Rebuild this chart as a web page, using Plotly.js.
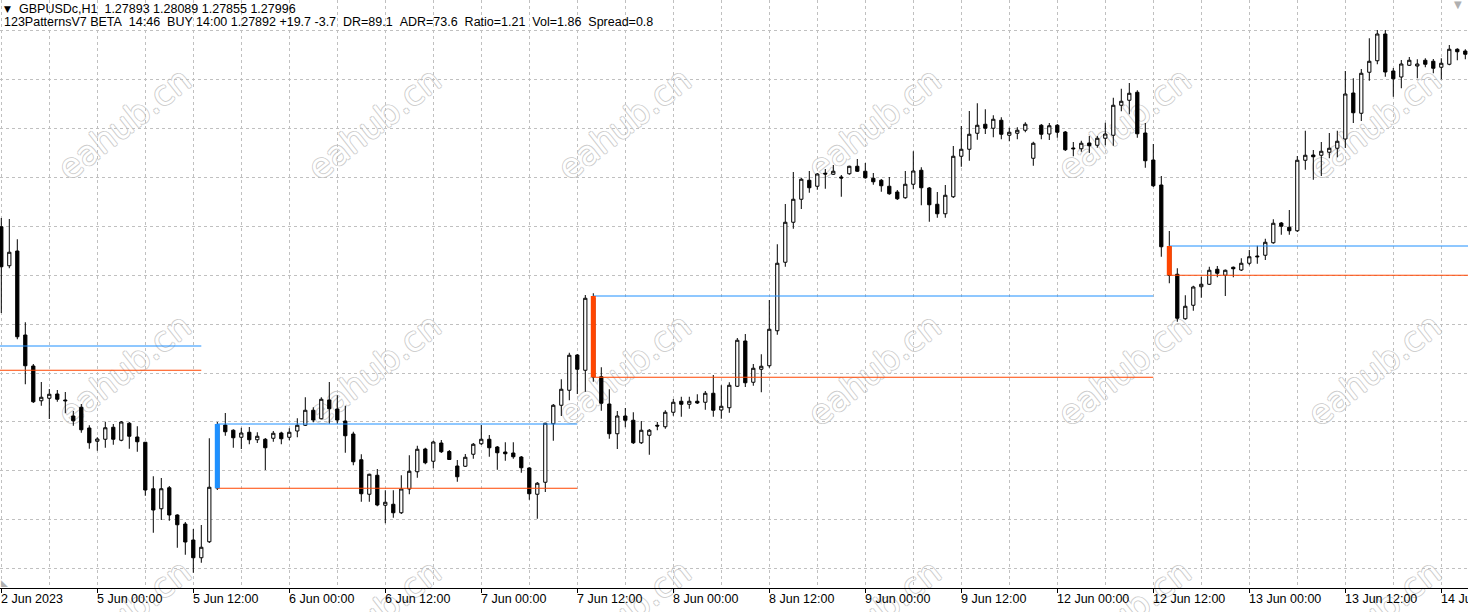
<!DOCTYPE html>
<html>
<head>
<meta charset="utf-8">
<script src="https://cdn.plot.ly/plotly-3.0.1.min.js"></script>
<style>
html,body{margin:0;padding:0;background:#ffffff;}
#chart{width:1468px;height:612px;}
</style>
</head>
<body>
<div id="chart"></div>
<script>
// GBPUSDc H1 bars (one per hour, weekend skipped), oldest first
const open = [1.25213,1.25057,1.25116,1.24780,1.24656,1.24517,1.24527,1.24544,1.24520,1.24456,1.24491,1.24408,1.24355,1.24363,1.24411,1.24359,1.24427,1.24372,1.24351,1.24165,1.24085,1.24169,1.24060,1.24024,1.23960,1.23889,1.23953,1.24168,1.24420,1.24399,1.24371,1.24391,1.24361,1.24363,1.24367,1.24388,1.24371,1.24396,1.24419,1.24479,1.24445,1.24520,1.24484,1.24436,1.24384,1.24281,1.24143,1.24219,1.24099,1.24103,1.24069,1.24164,1.24233,1.24324,1.24275,1.24348,1.24314,1.24256,1.24255,1.24303,1.24345,1.24363,1.24332,1.24312,1.24308,1.24292,1.24248,1.24143,1.24191,1.24425,1.24499,1.24559,1.24700,1.24639,1.24928,1.24613,1.24504,1.24385,1.24456,1.24439,1.24349,1.24379,1.24419,1.24413,1.24471,1.24515,1.24503,1.24515,1.24511,1.24547,1.24480,1.24489,1.24575,1.24756,1.24591,1.24643,1.24657,1.24797,1.25071,1.25231,1.25323,1.25399,1.25375,1.25427,1.25423,1.25412,1.25425,1.25455,1.25435,1.25407,1.25399,1.25375,1.25352,1.25329,1.25383,1.25439,1.25368,1.25303,1.25265,1.25333,1.25495,1.25523,1.25587,1.25623,1.25607,1.25639,1.25579,1.25587,1.25599,1.25487,1.25619,1.25584,1.25619,1.25592,1.25528,1.25525,1.25548,1.25539,1.25567,1.25579,1.25699,1.25719,1.25751,1.25588,1.25480,1.25380,1.25133,1.25023,1.24845,1.24899,1.24973,1.24983,1.25043,1.25019,1.25051,1.25040,1.25067,1.25096,1.25099,1.25149,1.25228,1.25211,1.25197,1.25479,1.25500,1.25499,1.25511,1.25527,1.25564,1.25748,1.25667,1.25831,1.25877,1.25984,1.25836,1.25812,1.25859,1.25856,1.25879,1.25875,1.25851,1.25863,1.25923,1.25916];
const high = [1.25248,1.25244,1.25163,1.24831,1.24664,1.24592,1.24564,1.24560,1.24552,1.24476,1.24504,1.24419,1.24371,1.24433,1.24424,1.24436,1.24432,1.24415,1.24352,1.24215,1.24208,1.24176,1.24063,1.24032,1.24004,1.24020,1.24367,1.24432,1.24468,1.24403,1.24409,1.24412,1.24391,1.24368,1.24396,1.24393,1.24407,1.24447,1.24531,1.24491,1.24531,1.24592,1.24539,1.24497,1.24393,1.24303,1.24225,1.24244,1.24159,1.24159,1.24219,1.24299,1.24337,1.24329,1.24357,1.24360,1.24320,1.24280,1.24304,1.24348,1.24420,1.24380,1.24336,1.24351,1.24351,1.24296,1.24251,1.24192,1.24429,1.24504,1.24603,1.24709,1.24704,1.24940,1.24947,1.24651,1.24563,1.24476,1.24488,1.24471,1.24436,1.24404,1.24432,1.24479,1.24524,1.24533,1.24533,1.24543,1.24556,1.24620,1.24579,1.24591,1.24768,1.24784,1.24664,1.24703,1.24920,1.25143,1.25304,1.25432,1.25409,1.25436,1.25428,1.25444,1.25460,1.25420,1.25457,1.25484,1.25468,1.25428,1.25404,1.25412,1.25360,1.25436,1.25515,1.25451,1.25372,1.25352,1.25380,1.25536,1.25616,1.25676,1.25707,1.25683,1.25659,1.25651,1.25609,1.25611,1.25631,1.25553,1.25624,1.25628,1.25624,1.25596,1.25552,1.25557,1.25576,1.25576,1.25629,1.25729,1.25765,1.25788,1.25759,1.25628,1.25544,1.25416,1.25196,1.25047,1.24939,1.24977,1.25013,1.25053,1.25056,1.25042,1.25054,1.25087,1.25120,1.25137,1.25165,1.25243,1.25232,1.25280,1.25496,1.25597,1.25520,1.25552,1.25588,1.25597,1.25836,1.25807,1.25844,1.25967,1.26000,1.26000,1.25848,1.25880,1.25892,1.25883,1.25887,1.25884,1.25887,1.25940,1.25927,1.25923];
const low = [1.24868,1.25047,1.24763,1.24583,1.24508,1.24497,1.24444,1.24513,1.24467,1.24417,1.24389,1.24325,1.24317,1.24329,1.24341,1.24355,1.24325,1.24313,1.24137,1.23989,1.24040,1.24037,1.23929,1.23901,1.23829,1.23869,1.23948,1.24160,1.24377,1.24329,1.24324,1.24343,1.24348,1.24240,1.24353,1.24343,1.24359,1.24371,1.24416,1.24431,1.24443,1.24425,1.24425,1.24309,1.24259,1.24113,1.24113,1.24095,1.24027,1.24049,1.24064,1.24143,1.24209,1.24263,1.24247,1.24308,1.24280,1.24193,1.24252,1.24285,1.24340,1.24293,1.24241,1.24277,1.24285,1.24229,1.24121,1.24045,1.24152,1.24357,1.24456,1.24519,1.24544,1.24553,1.24593,1.24477,1.24365,1.24324,1.24411,1.24344,1.24344,1.24301,1.24399,1.24405,1.24457,1.24453,1.24485,1.24504,1.24481,1.24453,1.24445,1.24469,1.24572,1.24572,1.24577,1.24551,1.24649,1.24781,1.25053,1.25205,1.25284,1.25349,1.25361,1.25365,1.25420,1.25333,1.25421,1.25432,1.25405,1.25381,1.25353,1.25341,1.25320,1.25325,1.25363,1.25299,1.25233,1.25249,1.25249,1.25328,1.25453,1.25477,1.25561,1.25584,1.25571,1.25563,1.25555,1.25563,1.25591,1.25457,1.25563,1.25560,1.25569,1.25516,1.25495,1.25513,1.25508,1.25529,1.25539,1.25537,1.25675,1.25663,1.25569,1.25449,1.25372,1.25093,1.24987,1.24833,1.24841,1.24877,1.24929,1.24980,1.25011,1.24936,1.25011,1.25036,1.25059,1.25065,1.25080,1.25145,1.25181,1.25181,1.25192,1.25441,1.25401,1.25416,1.25487,1.25491,1.25528,1.25628,1.25636,1.25797,1.25863,1.25813,1.25733,1.25767,1.25856,1.25807,1.25851,1.25827,1.25803,1.25859,1.25879,1.25883];
const close = [1.25053,1.25111,1.24773,1.24657,1.24513,1.24531,1.24543,1.24523,1.24517,1.24437,1.24401,1.24349,1.24364,1.24409,1.24363,1.24432,1.24375,1.24353,1.24160,1.24080,1.24165,1.24060,1.24021,1.23952,1.23889,1.23931,1.24171,1.24420,1.24393,1.24369,1.24388,1.24361,1.24375,1.24329,1.24387,1.24365,1.24391,1.24419,1.24479,1.24440,1.24523,1.24485,1.24440,1.24377,1.24273,1.24145,1.24223,1.24100,1.24111,1.24069,1.24164,1.24235,1.24323,1.24269,1.24352,1.24313,1.24282,1.24213,1.24291,1.24343,1.24363,1.24329,1.24309,1.24305,1.24293,1.24249,1.24145,1.24187,1.24427,1.24499,1.24563,1.24699,1.24643,1.24927,1.24612,1.24507,1.24385,1.24456,1.24439,1.24349,1.24399,1.24399,1.24416,1.24471,1.24511,1.24503,1.24515,1.24508,1.24547,1.24479,1.24495,1.24579,1.24759,1.24589,1.24647,1.24655,1.24803,1.25067,1.25231,1.25323,1.25403,1.25369,1.25424,1.25424,1.25435,1.25408,1.25455,1.25435,1.25409,1.25393,1.25377,1.25345,1.25325,1.25383,1.25436,1.25369,1.25301,1.25265,1.25339,1.25495,1.25523,1.25583,1.25619,1.25607,1.25643,1.25583,1.25591,1.25599,1.25623,1.25547,1.25583,1.25617,1.25591,1.25521,1.25525,1.25547,1.25537,1.25567,1.25584,1.25699,1.25715,1.25747,1.25585,1.25477,1.25377,1.25133,1.25019,1.24847,1.24895,1.24972,1.24983,1.25039,1.25027,1.25039,1.25045,1.25067,1.25093,1.25093,1.25151,1.25227,1.25215,1.25197,1.25479,1.25499,1.25493,1.25515,1.25527,1.25555,1.25744,1.25669,1.25827,1.25875,1.25984,1.25832,1.25805,1.25864,1.25879,1.25864,1.25863,1.25847,1.25867,1.25923,1.25913,1.25903];

// time-scale labels (bar index where each label sits)
const labelBars = [0,12,24,36,48,60,72,84,96,108,120,132,144,156,168,180];
const labelText = ["2 Jun 2023","5 Jun 00:00","5 Jun 12:00","6 Jun 00:00","6 Jun 12:00","7 Jun 00:00","7 Jun 12:00","8 Jun 00:00","8 Jun 12:00","9 Jun 00:00","9 Jun 12:00","12 Jun 00:00","12 Jun 12:00","13 Jun 00:00","13 Jun 12:00","14 Jun 00:00"];

// 123PatternsV7 levels: signal bar, end bar, upper (blue) and lower (orange) level, side
const patStart = [-8, 27, 74, 146];
const patEnd   = [25, 72, 144, 200];
const patUpper = [1.24736, 1.24424, 1.24936, 1.25136];
const patLower = [1.24639, 1.24167, 1.24611, 1.25019];
const patSide  = ["buy", "buy", "sell", "sell"];

const BLUE = "#1e90ff", ORANGE = "#ff4500";
const barIdx = open.map((_, i) => i);

const traces = [{
  type: "candlestick",
  x: barIdx, open: open, high: high, low: low, close: close,
  increasing: {line: {color: "#000000", width: 1}, fillcolor: "#ffffff"},
  decreasing: {line: {color: "#000000", width: 1}, fillcolor: "#000000"},
  whiskerwidth: 0,
  hoverinfo: "skip",
  showlegend: false
}];

for (let i = 0; i < patStart.length; i++) {
  traces.push({type: "scatter", mode: "lines", x: [patStart[i], patEnd[i]], y: [patUpper[i], patUpper[i]],
    line: {color: BLUE, width: 1}, hoverinfo: "skip", showlegend: false});
  traces.push({type: "scatter", mode: "lines", x: [patStart[i], patEnd[i]], y: [patLower[i], patLower[i]],
    line: {color: ORANGE, width: 1}, hoverinfo: "skip", showlegend: false});
  if (patStart[i] >= 0) {
    traces.push({type: "scatter", mode: "lines", x: [patStart[i], patStart[i]], y: [patUpper[i], patLower[i]],
      line: {color: patSide[i] === "buy" ? BLUE : ORANGE, width: 5}, hoverinfo: "skip", showlegend: false});
  }
}

const W = 1468, PH = 588;
const FONT = "Liberation Sans";
const annotations = [];
const shapes = [];
// watermark (drawn beneath the candles)
const wmX = [123, 373, 623, 873, 1123, 1373];
const wmY = [122, 368, 614];
wmY.forEach(py => wmX.forEach(px => shapes.push({
  type: "rect", layer: "below", xref: "paper", yref: "paper",
  x0: px / W, x1: px / W, y0: 1 - py / PH, y1: 1 - py / PH,
  line: {width: 0}, fillcolor: "rgba(0,0,0,0)",
  label: {text: "eahub.cn", textangle: -38, textposition: "middle center",
    font: {family: "DejaVu Sans", size: 34, color: "#ffffff",
      shadow: "1px 0 0 #cdcdcd, -1px 0 0 #cdcdcd, 0 1px 0 #cdcdcd, 0 -1px 0 #cdcdcd"}}
})));
// time labels
labelBars.forEach((b, i) => annotations.push({
  xref: "x", yref: "paper", x: b, y: -11 / PH, xanchor: "left", yanchor: "middle",
  text: labelText[i], showarrow: false, borderpad: 0, xshift: -1,
  font: {family: FONT, size: 12.5, color: "#000000"}
}));
// header
annotations.push({xref: "paper", yref: "paper", x: 3 / W, y: 1 - 9 / PH, xanchor: "left", yanchor: "middle",
  text: "\u25BC", showarrow: false, borderpad: 0, font: {family: "DejaVu Sans", size: 9, color: "#000000"}});
annotations.push({xref: "paper", yref: "paper", x: 18 / W, y: 1 - 9 / PH, xanchor: "left", yanchor: "middle",
  text: "GBPUSDc,H1\u00a0\u00a01.27893\u00a01.28089\u00a01.27855\u00a01.27996", showarrow: false, borderpad: 0,
  font: {family: FONT, size: 12.5, color: "#000000"}});
annotations.push({xref: "paper", yref: "paper", x: 3 / W, y: 1 - 22 / PH, xanchor: "left", yanchor: "middle",
  text: "123PatternsV7 BETA\u00a0\u00a014:46\u00a0\u00a0BUY 14:00 1.27892 +19.7 -3.7\u00a0\u00a0DR=89.1\u00a0\u00a0ADR=73.6\u00a0\u00a0Ratio=1.21\u00a0\u00a0Vol=1.86\u00a0\u00a0Spread=0.8",
  showarrow: false, borderpad: 0, font: {family: FONT, size: 12.5, color: "#000000"}});
// chart-shift marker (top right) and scale marker (bottom left)
annotations.push({xref: "paper", yref: "paper", x: 1458 / W, y: 1 - 4 / PH, xanchor: "center", yanchor: "middle",
  text: "\u25BC", showarrow: false, borderpad: 0, font: {family: "DejaVu Sans", size: 10, color: "#b0b0b0"}});
annotations.push({xref: "paper", yref: "paper", x: 0, y: 1 - 583 / PH, xanchor: "left", yanchor: "middle",
  text: "\u25E3", showarrow: false, borderpad: 0, font: {family: "DejaVu Sans", size: 9, color: "#b0b0b0"}});

const layout = {
  width: W, height: 612,
  margin: {l: 0, r: 0, t: 0, b: 612 - PH, pad: 0},
  paper_bgcolor: "#ffffff", plot_bgcolor: "#ffffff",
  showlegend: false,
  boxgap: 0.42,
  xaxis: {
    type: "linear", range: [-1.3 / 8, (W - 1.3) / 8], fixedrange: true,
    rangeslider: {visible: false},
    tickmode: "array", tickvals: labelBars, showticklabels: false,
    ticks: "outside", ticklen: 4, tickcolor: "#000000", tickwidth: 1,
    showgrid: true, gridcolor: "#c0c0c0", griddash: "3px,3px", gridwidth: 1,
    minor: {tickmode: "linear", tick0: 0, dtick: 6, showgrid: true, gridcolor: "#c0c0c0", griddash: "3px,3px", gridwidth: 1, ticks: ""},
    showline: true, linecolor: "#000000", linewidth: 1, zeroline: false
  },
  yaxis: {
    range: [1.26120 - 0.00004 * PH, 1.26120], fixedrange: true,
    tickmode: "linear", tick0: 1.259972, dtick: 0.001956,
    showticklabels: false, ticks: "",
    showgrid: true, gridcolor: "#c0c0c0", griddash: "3px,3px", gridwidth: 1,
    showline: false, zeroline: false
  },
  shapes: shapes,
  annotations: annotations
};

Plotly.newPlot("chart", traces, layout, {staticPlot: true, displayModeBar: false});
</script>
</body>
</html>
